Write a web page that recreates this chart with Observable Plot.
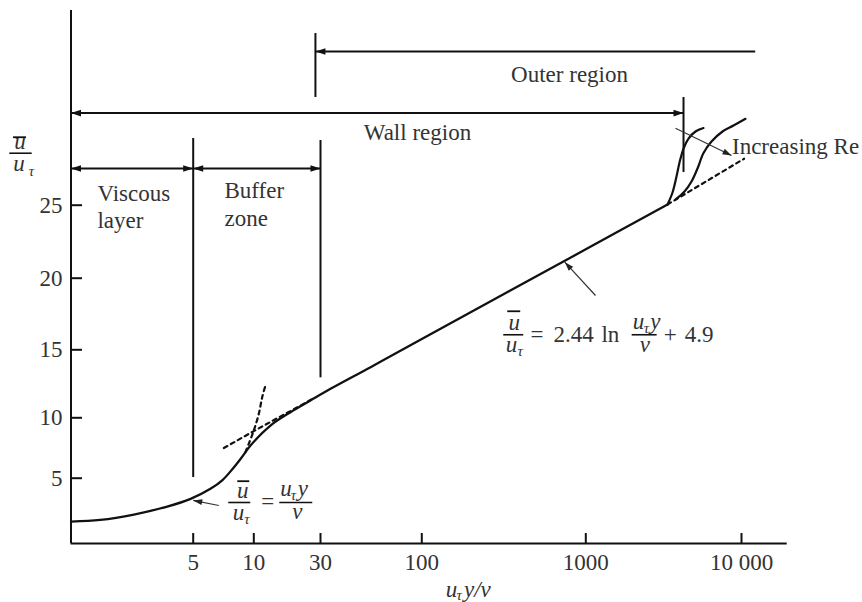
<!DOCTYPE html>
<html><head><meta charset="utf-8">
<script src="https://cdn.jsdelivr.net/npm/d3@7"></script>
<script src="https://cdn.jsdelivr.net/npm/@observablehq/plot@0.6"></script>
<style>html,body{margin:0;padding:0;background:#fff;overflow:hidden}</style>
</head><body><div id="chart"></div>
<script>
// ---------- data ----------
const xTicks = [5, 10, 30, 100, 1000, 10000];
const xTickLabels = ["5", "10", "30", "100", "1000", "10 000"];
const yTicks = [5, 10, 15, 20, 25];
const yTickLabels = ["5", "10", "15", "20", "25"];

// mean velocity profile u+ vs y+ (solid)
const profileX = [1.0, 1.47, 2.29, 3.55, 4.83, 6.09, 6.99, 7.84, 8.59, 9.63, 13.16, 18.3, 25.4, 33.8, 54.4, 100, 1000, 3350];
const profileY = [1.68, 1.81, 2.22, 2.83, 3.42, 4.19, 4.86, 5.76, 6.59, 7.71, 9.36, 10.41, 11.27, 12.13, 13.72, 15.75, 21.98, 25.05];

// dashed extension of the viscous law u+ = y+
const viscExtX = [9.09, 9.44, 10, 10.86, 11.48, 12.12];
const viscExtY = [7.15, 7.85, 8.95, 10.29, 11.51, 12.38];

// dashed extension of the log law, low end
const logLowX = [7.1, 10, 14.9, 21.6, 26.7];
const logLowY = [7.5, 8.9, 10.0, 10.9, 11.43];

// dashed extension of the log law, high end
const logHighX = [3350, 10000, 10400];
const logHighY = [25.05, 28.0, 28.1];

// outer-region profiles for two Reynolds numbers
const lowReX = [3350, 3605, 3824, 3998, 4242, 4567, 5065, 5702];
const lowReY = [25.05, 25.85, 26.92, 27.85, 28.78, 29.45, 29.92, 30.15];
const highReX = [3768, 4305, 4774, 5217, 5702, 6417, 7551, 8884, 10625];
const highReY = [25.38, 25.91, 26.58, 27.45, 28.48, 29.25, 29.92, 30.32, 30.77];

// region brackets
const regionName  = ["Viscous layer", "Buffer zone", "Wall region", "Outer region"];
const regionStart = [1, 5, 1, 27.6];
const regionEnd   = [5, 30, 4242, 12400];
const regionLevel = [27.45, 27.45, 31.15, 35.26];
const regionHeadAtStart = [true, true, true, true];
const regionHeadAtEnd   = [true, true, true, false];

// region boundary lines
const boundaryX      = [5, 30, 27.6, 4242];
const boundaryTop    = [29.45, 29.32, 36.46, 32.19];
const boundaryBottom = [5.05, 12.94, 32.19, 27.18];

// text labels
const labelText   = ["Viscous", "layer", "Buffer", "zone", "Wall region", "Outer region", "Increasing Re"];
const labelX      = [1.417, 1.417, 7.15, 7.15, 95, 796, 8690];
const labelY      = [25.78, 23.95, 25.98, 24.09, 29.87, 33.72, 28.92];
const labelAnchor = ["start", "start", "start", "start", "middle", "middle", "start"];

// pointer arrows (from -> to)
const pointerX1 = [1154, 6.70, 3768];
const pointerY1 = [18.79, 2.91, 30.14];
const pointerX2 = [745, 5.0, 8627];
const pointerY2 = [21.1, 3.3, 28.32];

// formula anchors
const logLawAnchor = {x: 316, y: 16.05};
const viscLawAnchor = {x: 7.51, y: 3.14};
const yLabelAnchor = {frame: "left", y: 28.47};
const xLabelAnchor = {frame: "bottom", x: 198};

// ---------- layout / style ----------
const W = 862, H = 602;
const ML = 70, MR = 75, MT = 10, MB = 59;
const FRAME_W = W - ML - MR, FRAME_H = H - MT - MB;
const SERIF = "'Liberation Serif', 'Times New Roman', Times, serif";
const INK = "#111";
const TEXT = "#333";
const FS = 23, SUB = 15;

const X_OPTS = {type: "log", domain: [1, 5, 10, 30, 100, 1000, 10000, 20000],
  range: [70.5, 192.7, 253.3, 320, 421.3, 585.3, 741, 786.7]};
const Y_OPTS = {type: "linear", domain: [0, 5, 10, 15, 20, 25, 38],
  range: [543, 477.7, 417.3, 349.3, 277.7, 204.7, 10]};

const xs = Plot.scale({x: X_OPTS});
const ys = Plot.scale({y: Y_OPTS});
const angleOf = (x1, y1, x2, y2) =>
  Math.atan2(ys.apply(y2) - ys.apply(y1), xs.apply(x2) - xs.apply(x1)) * 180 / Math.PI;

const zip = (X, Y) => X.map((x, i) => ({x, y: Y[i]}));
const profile = zip(profileX, profileY);
const viscExt = zip(viscExtX, viscExtY);
const logLow = zip(logLowX, logLowY);
const logHigh = zip(logHighX, logHighY);
const lowRe = zip(lowReX, lowReY);
const highRe = zip(highReX, highReY);

const regions = regionName.map((name, i) => ({name, start: regionStart[i], end: regionEnd[i], level: regionLevel[i]}));
const boundaries = boundaryX.map((x, i) => ({x, top: boundaryTop[i], bottom: boundaryBottom[i]}));
const labels = labelText.map((text, i) => ({text, x: labelX[i], y: labelY[i], anchor: labelAnchor[i]}));
const pointers = pointerX1.map((x1, i) => ({x1, y1: pointerY1[i], x2: pointerX2[i], y2: pointerY2[i]}));
const xTickData = xTicks.map((v, i) => ({v, label: xTickLabels[i]}));
const yTickData = yTicks.map((v, i) => ({v, label: yTickLabels[i]}));

const heads = [];
regions.forEach((r, i) => {
  if (regionHeadAtEnd[i]) heads.push({x: r.end, y: r.level, a: 0});
  if (regionHeadAtStart[i]) heads.push({x: r.start, y: r.level, a: 180});
});
const pointerHeads = pointers.map(p => ({x: p.x2, y: p.y2, a: angleOf(p.x1, p.y1, p.x2, p.y2)}));

const headSymbol = {draw(ctx) { ctx.moveTo(0, 0); ctx.lineTo(-10, -3.3); ctx.lineTo(-10, 3.3); ctx.closePath(); }};
const smallHead = {draw(ctx) { ctx.moveTo(0, 0); ctx.lineTo(-9, -3); ctx.lineTo(-9, 3); ctx.closePath(); }};

// typesetting helper for fraction formulas
function typeset(anchor, pieces) {
  const data = [anchor];
  const pos = {};
  if (anchor.x !== undefined) pos.x = d => d.x;
  if (anchor.y !== undefined) pos.y = d => d.y;
  if (anchor.frame) pos.frameAnchor = anchor.frame;
  return pieces.map(p => {
    if (p.bar) {
      const [a, b] = p.bar;
      const o = {y: pos.y, dy: p.dy || 0, stroke: INK, strokeWidth: p.w || 1.6};
      if (pos.x) Object.assign(o, {x1: pos.x, x2: pos.x, insetLeft: a, insetRight: -b});
      else Object.assign(o, {insetLeft: a, insetRight: FRAME_W - b});
      return Plot.ruleY(data, o);
    }
    return Plot.text(data, {
      ...pos, text: () => p.s, dx: p.dx || 0, dy: p.dy || 0,
      textAnchor: p.ta || "start", lineAnchor: "bottom",
      fontSize: p.size || FS, fontStyle: p.it ? "italic" : "normal",
      fontFamily: SERIF, fill: TEXT
    });
  });
}

const logLawFormula = typeset(logLawAnchor, [
  {bar: [0, 20]},
  {bar: [4, 17], dy: -23.5, w: 1.8},
  {s: "u", dx: 10.5, dy: -4.5, it: true, ta: "middle"},
  {s: "u", dx: 2, dy: 17.4, it: true},
  {s: "τ", dx: 13.7, dy: 21.5, it: true, size: SUB},
  {s: "=", dx: 26.7, dy: 7.2},
  {s: "2.44", dx: 49.7, dy: 7.2},
  {s: "ln", dx: 97.7, dy: 7.2},
  {s: "u", dx: 129, dy: -6, it: true},
  {s: "τ", dx: 140, dy: -2, it: true, size: SUB},
  {s: "y", dx: 146.5, dy: -6, it: true},
  {bar: [128.4, 153.4]},
  {s: "ν", dx: 141, dy: 17.4, it: true, ta: "middle"},
  {s: "+", dx: 160, dy: 7.2},
  {s: "4.9", dx: 181, dy: 7.2}
]);

const viscLawFormula = typeset(viscLawAnchor, [
  {bar: [0, 22]},
  {bar: [9, 21], dy: -21.3, w: 1.8},
  {s: "u", dx: 14, dy: -4.5, it: true, ta: "middle"},
  {s: "u", dx: 4, dy: 18, it: true},
  {s: "τ", dx: 15.5, dy: 22, it: true, size: SUB},
  {s: "=", dx: 39, dy: 6.5, ta: "middle"},
  {s: "u", dx: 51.5, dy: -6.5, it: true},
  {s: "τ", dx: 62, dy: -2.5, it: true, size: SUB},
  {s: "y", dx: 69, dy: -6.5, it: true},
  {bar: [51, 84]},
  {s: "ν", dx: 68.5, dy: 17, it: true, ta: "middle"}
]);

const yLabel = typeset(yLabelAnchor, [
  {bar: [-60.7, -38.3]},
  {bar: [-57, -44], dy: -16, w: 1.8},
  {s: "u", dx: -50.5, dy: -3.8, it: true, ta: "middle"},
  {s: "u", dx: -57.3, dy: 17.3, it: true},
  {s: "τ", dx: -41.7, dy: 22.3, it: true, size: SUB}
]);

const xLabel = typeset(xLabelAnchor, [
  {s: "u", dx: -24.6, dy: 53, it: true},
  {s: "τ", dx: -14, dy: 56.5, it: true, size: SUB},
  {s: "y/ν", dx: -6.5, dy: 53, it: true}
]);

const chart = Plot.plot({
  width: W, height: H,
  marginLeft: ML, marginRight: MR, marginTop: MT, marginBottom: MB,
  x: {...X_OPTS, axis: null},
  y: {...Y_OPTS, axis: null},
  style: {fontFamily: SERIF, background: "#fff", overflow: "visible"},
  marks: [
    // axes lines
    Plot.ruleX([X_OPTS.domain[0]], {y1: Y_OPTS.domain[0], y2: Y_OPTS.domain[Y_OPTS.domain.length - 1], stroke: INK, strokeWidth: 2}),
    Plot.ruleY([Y_OPTS.domain[0]], {x1: X_OPTS.domain[0], x2: X_OPTS.domain[X_OPTS.domain.length - 1], stroke: INK, strokeWidth: 2}),
    // inward ticks
    Plot.tickX(xTickData, {x: "v", insetTop: FRAME_H - 10, stroke: INK, strokeWidth: 2}),
    Plot.tickY(yTickData, {y: "v", insetRight: FRAME_W - 12, stroke: INK, strokeWidth: 2}),
    // tick labels
    Plot.text(xTickData, {x: "v", text: "label", frameAnchor: "bottom", lineAnchor: "top", dy: 10,
      fontSize: FS, fontFamily: SERIF, fill: TEXT}),
    Plot.text(yTickData, {y: "v", text: "label", frameAnchor: "left", textAnchor: "end", dx: -8,
      fontSize: FS, fontFamily: SERIF, fill: TEXT}),
    // region boundaries and brackets
    Plot.ruleX(boundaries, {x: "x", y1: "bottom", y2: "top", stroke: INK, strokeWidth: 2}),
    Plot.ruleY(regions, {y: "level", x1: "start", x2: "end", stroke: INK, strokeWidth: 2}),
    Plot.dot(heads, {x: "x", y: "y", rotate: "a", symbol: headSymbol, fill: INK, stroke: null}),
    // curves
    Plot.line(logLow, {x: "x", y: "y", stroke: INK, strokeWidth: 2.2, strokeDasharray: "4,4", curve: "linear"}),
    Plot.line(viscExt, {x: "x", y: "y", stroke: INK, strokeWidth: 2.2, strokeDasharray: "4,4", curve: "catmull-rom"}),
    Plot.line(logHigh, {x: "x", y: "y", stroke: INK, strokeWidth: 2.2, strokeDasharray: "4,4", curve: "linear"}),
    Plot.line(profile, {x: "x", y: "y", stroke: INK, strokeWidth: 2.3, curve: "catmull-rom"}),
    Plot.line(lowRe, {x: "x", y: "y", stroke: INK, strokeWidth: 2.2, curve: "catmull-rom"}),
    Plot.line(highRe, {x: "x", y: "y", stroke: INK, strokeWidth: 2.2, curve: "catmull-rom"}),
    // pointers
    Plot.link(pointers, {x1: "x1", y1: "y1", x2: "x2", y2: "y2", stroke: "#333", strokeWidth: 1.2}),
    Plot.dot(pointerHeads, {x: "x", y: "y", rotate: "a", symbol: smallHead, fill: "#222", stroke: null}),
    // labels
    Plot.text(labels.filter(d => d.anchor === "start"), {x: "x", y: "y", text: "text", textAnchor: "start", lineAnchor: "middle",
      fontSize: FS, fontFamily: SERIF, fill: TEXT}),
    Plot.text(labels.filter(d => d.anchor === "middle"), {x: "x", y: "y", text: "text", textAnchor: "middle", lineAnchor: "middle",
      fontSize: FS, fontFamily: SERIF, fill: TEXT}),
    ...logLawFormula, ...viscLawFormula, ...yLabel, ...xLabel
  ]
});
document.getElementById("chart").appendChild(chart);
</script>
</body></html>
